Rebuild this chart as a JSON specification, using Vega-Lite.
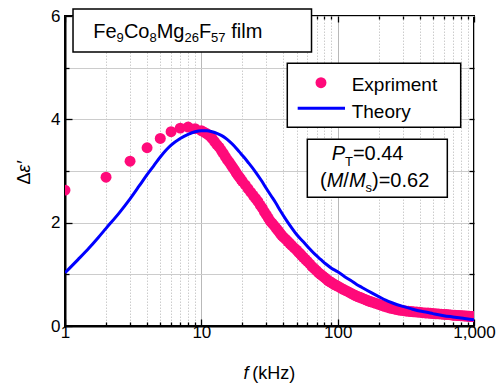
{
  "$schema": "https://vega.github.io/schema/vega-lite/v6.json",
  "width": 409,
  "height": 310,
  "autosize": "none",
  "padding": {"left": 65, "top": 16, "right": 29, "bottom": 58},
  "background": "white",
  "config": {
    "view": {"stroke": "black", "strokeWidth": 2},
    "font": "Liberation Sans",
    "axis": {"labelFont": "Liberation Sans", "titleFont": "Liberation Sans", "labelColor": "black", "titleColor": "black", "titleFontWeight": "normal", "tickColor": "black", "domainColor": "black"}
  },
  "datasets": {
    "exp": [
      {"f": 1, "e": 2.63}, {"f": 2, "e": 2.88}, {"f": 3, "e": 3.19}, {"f": 4, "e": 3.45}, {"f": 5, "e": 3.63},
      {"f": 6, "e": 3.76}, {"f": 7, "e": 3.83}, {"f": 8, "e": 3.85}, {"f": 9, "e": 3.82}, {"f": 10, "e": 3.78},
      {"f": 10.5, "e": 3.75}, {"f": 11, "e": 3.72}, {"f": 11.5, "e": 3.68}, {"f": 12, "e": 3.63}, {"f": 12.5, "e": 3.57},
      {"f": 13, "e": 3.51}, {"f": 13.5, "e": 3.46}, {"f": 14, "e": 3.40}, {"f": 14.5, "e": 3.34}, {"f": 15, "e": 3.28},
      {"f": 15.5, "e": 3.22}, {"f": 16, "e": 3.17}, {"f": 16.5, "e": 3.12}, {"f": 17, "e": 3.07}, {"f": 17.5, "e": 3.02},
      {"f": 18, "e": 2.97}, {"f": 18.5, "e": 2.92}, {"f": 19, "e": 2.88}, {"f": 19.5, "e": 2.84}, {"f": 20, "e": 2.80},
      {"f": 21, "e": 2.73}, {"f": 22, "e": 2.66}, {"f": 23, "e": 2.59}, {"f": 24, "e": 2.53}, {"f": 25, "e": 2.47},
      {"f": 26, "e": 2.41}, {"f": 27, "e": 2.34}, {"f": 28, "e": 2.28}, {"f": 29, "e": 2.21}, {"f": 30, "e": 2.15},
      {"f": 31, "e": 2.09}, {"f": 32, "e": 2.03}, {"f": 33, "e": 1.99}, {"f": 34, "e": 1.95}, {"f": 35, "e": 1.91},
      {"f": 36, "e": 1.87}, {"f": 37, "e": 1.83}, {"f": 38, "e": 1.79}, {"f": 39, "e": 1.75}, {"f": 40, "e": 1.72},
      {"f": 41.5, "e": 1.68}, {"f": 43, "e": 1.64}, {"f": 44.5, "e": 1.60}, {"f": 46, "e": 1.56}, {"f": 48, "e": 1.51},
      {"f": 50, "e": 1.47}, {"f": 51.5, "e": 1.43}, {"f": 53, "e": 1.40}, {"f": 54.5, "e": 1.36}, {"f": 56, "e": 1.33},
      {"f": 58, "e": 1.29}, {"f": 60, "e": 1.25}, {"f": 62.5, "e": 1.20}, {"f": 65, "e": 1.15}, {"f": 67.5, "e": 1.11},
      {"f": 70, "e": 1.07}, {"f": 72.5, "e": 1.03}, {"f": 75, "e": 1.00}, {"f": 77.5, "e": 0.97}, {"f": 80, "e": 0.94},
      {"f": 82.5, "e": 0.91}, {"f": 85, "e": 0.88}, {"f": 87.5, "e": 0.86}, {"f": 90, "e": 0.84}, {"f": 92.5, "e": 0.82},
      {"f": 95, "e": 0.80}, {"f": 97.5, "e": 0.785}, {"f": 100, "e": 0.77}, {"f": 105, "e": 0.74}, {"f": 110, "e": 0.71},
      {"f": 115, "e": 0.685}, {"f": 120, "e": 0.66}, {"f": 125, "e": 0.635}, {"f": 130, "e": 0.61}, {"f": 135, "e": 0.59},
      {"f": 140, "e": 0.57}, {"f": 145, "e": 0.555}, {"f": 150, "e": 0.54}, {"f": 155, "e": 0.525}, {"f": 160, "e": 0.51},
      {"f": 165, "e": 0.495}, {"f": 170, "e": 0.48}, {"f": 175, "e": 0.47}, {"f": 180, "e": 0.46}, {"f": 190, "e": 0.44},
      {"f": 200, "e": 0.42}, {"f": 210, "e": 0.40}, {"f": 220, "e": 0.38}, {"f": 230, "e": 0.365}, {"f": 240, "e": 0.35},
      {"f": 250, "e": 0.34}, {"f": 260, "e": 0.33}, {"f": 270, "e": 0.32}, {"f": 280, "e": 0.31}, {"f": 290, "e": 0.305},
      {"f": 300, "e": 0.30}, {"f": 315, "e": 0.292}, {"f": 330, "e": 0.285}, {"f": 345, "e": 0.28}, {"f": 360, "e": 0.275},
      {"f": 380, "e": 0.27}, {"f": 400, "e": 0.265}, {"f": 420, "e": 0.258}, {"f": 440, "e": 0.253}, {"f": 460, "e": 0.25},
      {"f": 480, "e": 0.245}, {"f": 500, "e": 0.24}, {"f": 525, "e": 0.237}, {"f": 550, "e": 0.235}, {"f": 575, "e": 0.23},
      {"f": 600, "e": 0.225}, {"f": 625, "e": 0.222}, {"f": 650, "e": 0.22}, {"f": 675, "e": 0.215}, {"f": 700, "e": 0.21},
      {"f": 725, "e": 0.207}, {"f": 750, "e": 0.205}, {"f": 775, "e": 0.202}, {"f": 800, "e": 0.20}, {"f": 825, "e": 0.197},
      {"f": 850, "e": 0.195}, {"f": 875, "e": 0.192}, {"f": 900, "e": 0.19}, {"f": 925, "e": 0.187}, {"f": 950, "e": 0.185},
      {"f": 975, "e": 0.182}, {"f": 1000, "e": 0.18}
    ],
    "theory": [
      {"f": 1, "t": 1.03}, {"f": 1.25, "t": 1.29}, {"f": 1.5, "t": 1.51}, {"f": 1.75, "t": 1.71}, {"f": 2, "t": 1.89},
      {"f": 2.5, "t": 2.19}, {"f": 3, "t": 2.46}, {"f": 3.5, "t": 2.71}, {"f": 4, "t": 2.93}, {"f": 4.5, "t": 3.11},
      {"f": 5, "t": 3.27}, {"f": 5.5, "t": 3.40}, {"f": 6, "t": 3.50}, {"f": 7, "t": 3.63}, {"f": 8, "t": 3.71},
      {"f": 9, "t": 3.76}, {"f": 10, "t": 3.78}, {"f": 11, "t": 3.78}, {"f": 12, "t": 3.76}, {"f": 13, "t": 3.73},
      {"f": 14, "t": 3.69}, {"f": 15, "t": 3.64}, {"f": 16, "t": 3.58}, {"f": 17.5, "t": 3.48}, {"f": 19, "t": 3.37},
      {"f": 20.5, "t": 3.27}, {"f": 22, "t": 3.17}, {"f": 25, "t": 2.98}, {"f": 27.5, "t": 2.82}, {"f": 30, "t": 2.66},
      {"f": 32.5, "t": 2.52}, {"f": 35, "t": 2.39}, {"f": 38, "t": 2.23}, {"f": 42, "t": 2.05}, {"f": 46, "t": 1.90},
      {"f": 50, "t": 1.77}, {"f": 56, "t": 1.63}, {"f": 62, "t": 1.50}, {"f": 68, "t": 1.39}, {"f": 75, "t": 1.29},
      {"f": 82, "t": 1.20}, {"f": 90, "t": 1.12}, {"f": 100, "t": 1.05}, {"f": 112, "t": 0.96}, {"f": 125, "t": 0.88},
      {"f": 137, "t": 0.81}, {"f": 150, "t": 0.75}, {"f": 175, "t": 0.65}, {"f": 200, "t": 0.57}, {"f": 225, "t": 0.50},
      {"f": 250, "t": 0.45}, {"f": 300, "t": 0.38}, {"f": 350, "t": 0.33}, {"f": 400, "t": 0.29}, {"f": 450, "t": 0.265},
      {"f": 500, "t": 0.24}, {"f": 600, "t": 0.20}, {"f": 700, "t": 0.175}, {"f": 850, "t": 0.145}, {"f": 1000, "t": 0.12}
    ],
    "boxes": [
      {"f1": 1.145, "f2": 64.3, "v1": 6.135, "v2": 5.303},
      {"f1": 42.7, "f2": 798.8, "v1": 5.084, "v2": 3.846},
      {"f1": 59.89, "f2": 637.2, "v1": 3.614, "v2": 2.491}
    ],
    "legendDot": [{"f": 75.45, "v": 4.709}],
    "legendLine": [{"f1": 50.9, "f2": 113.2, "v": 4.213}],
    "legendText": [
      {"f": 126.7, "v": 4.554, "t": "Expriment"},
      {"f": 126.7, "v": 4.020, "t": "Theory"}
    ],
    "mainText": [
      {"f": 1.613, "v": 5.58, "t": "Fe"},
      {"f": 2.704, "v": 5.58, "t": "Co"},
      {"f": 4.706, "v": 5.58, "t": "Mg"},
      {"f": 9.598, "v": 5.58, "t": "F"},
      {"f": 16.56, "v": 5.58, "t": "film"},
      {"f": 129.3, "v": 3.213, "t": "=0.44"},
      {"f": 74.2, "v": 2.696, "t": "("},
      {"f": 110.0, "v": 2.696, "t": "/"},
      {"f": 178.6, "v": 2.696, "t": ")=0.62"}
    ],
    "italicText": [
      {"f": 90.4, "v": 3.213, "t": "P"},
      {"f": 83.1, "v": 2.696, "t": "M"},
      {"f": 120.9, "v": 2.696, "t": "M"}
    ],
    "subText": [
      {"f": 2.391, "v": 5.503, "t": "9"},
      {"f": 4.159, "v": 5.503, "t": "8"},
      {"f": 7.513, "v": 5.503, "t": "26"},
      {"f": 11.79, "v": 5.503, "t": "57"},
      {"f": 113.2, "v": 3.103, "t": "T"},
      {"f": 160.1, "v": 2.599, "t": "s"}
    ],
    "xTitleItalic": [{"f": 20.39, "v": -1.035, "t": "f"}],
    "xTitleNormal": [{"f": 23.6, "v": -1.035, "t": "(kHz)"}],
    "yTitleNormal": [{"f": 0.554, "v": 2.739, "t": "Δ"}],
    "yTitleItalic": [{"f": 0.554, "v": 2.971, "t": "ε′"}]
  },
  "resolve": {"axis": {"x": "independent", "y": "independent"}},
  "layer": [
    {
      "data": {"name": "exp"},
      "mark": {"type": "circle", "size": 120, "color": "#FF0A7A", "opacity": 1, "clip": true},
      "encoding": {
        "x": {
          "field": "f", "type": "quantitative",
          "scale": {"type": "log", "domain": [1, 1000]},
          "axis": {
            "orient": "bottom",
            "values": [1, 2, 3, 4, 5, 6, 7, 8, 9, 10, 20, 30, 40, 50, 60, 70, 80, 90, 100, 200, 300, 400, 500, 600, 700, 800, 900, 1000],
            "labelExpr": "datum.value == 1 || datum.value == 10 || datum.value == 100 || datum.value == 1000 ? format(datum.value, ',') : ''",
            "labelFontSize": 17,
            "labelPadding": 5,
            "labelFlush": false,
            "labelOverlap": false,
            "title": null,
            "grid": true,
            "gridColor": {"condition": {"test": "datum.value == 1 || datum.value == 10 || datum.value == 100 || datum.value == 1000", "value": "#b9b9b9"}, "value": "#cccccc"},
            "gridDash": {"condition": {"test": "datum.value == 1 || datum.value == 10 || datum.value == 100 || datum.value == 1000", "value": []}, "value": [1.5, 1.5]},
            "gridWidth": 1,
            "tickSize": {"condition": {"test": "datum.value == 1 || datum.value == 10 || datum.value == 100 || datum.value == 1000", "value": -7}, "value": -4},
            "tickWidth": 1.3,
            "domainWidth": 2
          }
        },
        "y": {
          "field": "e", "type": "quantitative",
          "scale": {"domain": [0, 6]},
          "axis": {
            "orient": "left",
            "values": [0, 1, 2, 3, 4, 5, 6],
            "labelExpr": "datum.value % 2 == 0 ? datum.label : ''",
            "labelFontSize": 17,
            "labelPadding": 12,
            "labelFlush": false,
            "title": null,
            "grid": true,
            "gridColor": "#cccccc",
            "gridWidth": 1,
            "tickSize": {"condition": {"test": "datum.value % 2 == 0", "value": -7}, "value": -4},
            "tickWidth": 1.3,
            "domainWidth": 2
          }
        }
      }
    },
    {
      "data": {"name": "theory"},
      "mark": {"type": "line", "color": "#0000FF", "strokeWidth": 3, "interpolate": "monotone", "clip": true},
      "encoding": {
        "x": {
          "field": "f", "type": "quantitative",
          "scale": {"type": "log", "domain": [1, 1000]},
          "axis": {
            "orient": "top",
            "values": [1, 2, 3, 4, 5, 6, 7, 8, 9, 10, 20, 30, 40, 50, 60, 70, 80, 90, 100, 200, 300, 400, 500, 600, 700, 800, 900, 1000],
            "labels": false, "grid": false, "domain": false, "title": null,
            "tickSize": {"condition": {"test": "datum.value == 1 || datum.value == 10 || datum.value == 100 || datum.value == 1000", "value": -6}, "value": -3},
            "tickWidth": 1.3
          }
        },
        "y": {
          "field": "t", "type": "quantitative",
          "scale": {"domain": [0, 6]},
          "axis": {
            "orient": "right",
            "values": [1, 2, 3, 4, 5],
            "labels": false, "grid": false, "domain": false, "title": null,
            "tickSize": -5,
            "tickWidth": 1.3
          }
        }
      }
    },
    {
      "data": {"name": "boxes"},
      "mark": {"type": "rect", "fill": "white", "stroke": "black", "strokeWidth": 1.5},
      "encoding": {
        "x": {"field": "f1", "type": "quantitative", "scale": {"type": "log", "domain": [1, 1000]}, "axis": null},
        "x2": {"field": "f2"},
        "y": {"field": "v1", "type": "quantitative", "scale": {"domain": [0, 6]}, "axis": null},
        "y2": {"field": "v2"}
      }
    },
    {
      "data": {"name": "legendDot"},
      "mark": {"type": "circle", "size": 120, "color": "#FF0A7A", "opacity": 1},
      "encoding": {
        "x": {"field": "f", "type": "quantitative", "scale": {"type": "log", "domain": [1, 1000]}, "axis": null},
        "y": {"field": "v", "type": "quantitative", "scale": {"domain": [0, 6]}, "axis": null}
      }
    },
    {
      "data": {"name": "legendLine"},
      "mark": {"type": "rule", "color": "#0000FF", "strokeWidth": 3},
      "encoding": {
        "x": {"field": "f1", "type": "quantitative", "scale": {"type": "log", "domain": [1, 1000]}, "axis": null},
        "x2": {"field": "f2"},
        "y": {"field": "v", "type": "quantitative", "scale": {"domain": [0, 6]}, "axis": null}
      }
    },
    {
      "data": {"name": "legendText"},
      "mark": {"type": "text", "align": "left", "baseline": "alphabetic", "fontSize": 19, "font": "Liberation Sans", "color": "black"},
      "encoding": {
        "x": {"field": "f", "type": "quantitative", "scale": {"type": "log", "domain": [1, 1000]}, "axis": null},
        "y": {"field": "v", "type": "quantitative", "scale": {"domain": [0, 6]}, "axis": null},
        "text": {"field": "t"}
      }
    },
    {
      "data": {"name": "mainText"},
      "mark": {"type": "text", "align": "left", "baseline": "alphabetic", "fontSize": 20, "font": "Liberation Sans", "color": "black"},
      "encoding": {
        "x": {"field": "f", "type": "quantitative", "scale": {"type": "log", "domain": [1, 1000]}, "axis": null},
        "y": {"field": "v", "type": "quantitative", "scale": {"domain": [0, 6]}, "axis": null},
        "text": {"field": "t"}
      }
    },
    {
      "data": {"name": "italicText"},
      "mark": {"type": "text", "align": "left", "baseline": "alphabetic", "fontSize": 20, "fontStyle": "italic", "font": "Liberation Sans", "color": "black"},
      "encoding": {
        "x": {"field": "f", "type": "quantitative", "scale": {"type": "log", "domain": [1, 1000]}, "axis": null},
        "y": {"field": "v", "type": "quantitative", "scale": {"domain": [0, 6]}, "axis": null},
        "text": {"field": "t"}
      }
    },
    {
      "data": {"name": "subText"},
      "mark": {"type": "text", "align": "left", "baseline": "alphabetic", "fontSize": 13, "font": "Liberation Sans", "color": "black"},
      "encoding": {
        "x": {"field": "f", "type": "quantitative", "scale": {"type": "log", "domain": [1, 1000]}, "axis": null},
        "y": {"field": "v", "type": "quantitative", "scale": {"domain": [0, 6]}, "axis": null},
        "text": {"field": "t"}
      }
    },
    {
      "data": {"name": "xTitleItalic"},
      "mark": {"type": "text", "align": "left", "baseline": "alphabetic", "fontSize": 18, "fontStyle": "italic", "font": "Liberation Sans", "color": "black"},
      "encoding": {
        "x": {"field": "f", "type": "quantitative", "scale": {"type": "log", "domain": [1, 1000]}, "axis": null},
        "y": {"field": "v", "type": "quantitative", "scale": {"domain": [0, 6]}, "axis": null},
        "text": {"field": "t"}
      }
    },
    {
      "data": {"name": "xTitleNormal"},
      "mark": {"type": "text", "align": "left", "baseline": "alphabetic", "fontSize": 18, "font": "Liberation Sans", "color": "black"},
      "encoding": {
        "x": {"field": "f", "type": "quantitative", "scale": {"type": "log", "domain": [1, 1000]}, "axis": null},
        "y": {"field": "v", "type": "quantitative", "scale": {"domain": [0, 6]}, "axis": null},
        "text": {"field": "t"}
      }
    },
    {
      "data": {"name": "yTitleNormal"},
      "mark": {"type": "text", "align": "left", "baseline": "alphabetic", "angle": 270, "fontSize": 18, "font": "Liberation Sans", "color": "black"},
      "encoding": {
        "x": {"field": "f", "type": "quantitative", "scale": {"type": "log", "domain": [1, 1000]}, "axis": null},
        "y": {"field": "v", "type": "quantitative", "scale": {"domain": [0, 6]}, "axis": null},
        "text": {"field": "t"}
      }
    },
    {
      "data": {"name": "yTitleItalic"},
      "mark": {"type": "text", "align": "left", "baseline": "alphabetic", "angle": 270, "fontSize": 18, "fontStyle": "italic", "font": "Liberation Sans", "color": "black"},
      "encoding": {
        "x": {"field": "f", "type": "quantitative", "scale": {"type": "log", "domain": [1, 1000]}, "axis": null},
        "y": {"field": "v", "type": "quantitative", "scale": {"domain": [0, 6]}, "axis": null},
        "text": {"field": "t"}
      }
    }
  ]
}
